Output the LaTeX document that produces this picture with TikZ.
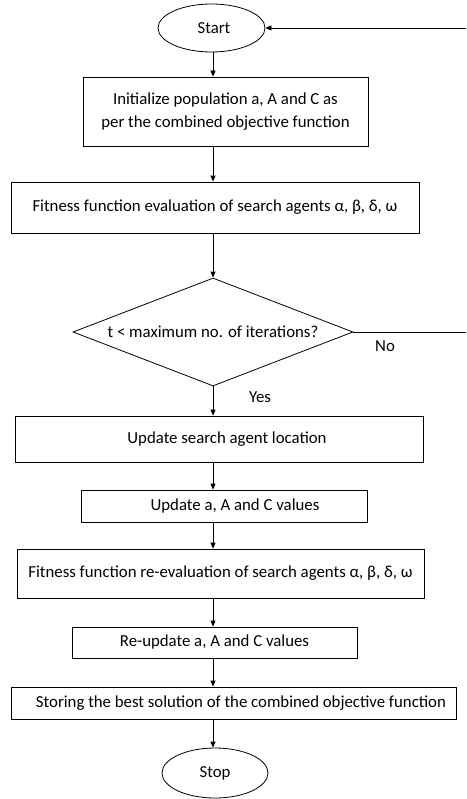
\documentclass[tikz,border=0pt]{standalone}
\usepackage{fontspec}
\setmainfont{Carlito}
\usetikzlibrary{arrows.meta,shapes.geometric}
\tikzset{
  flow/.style={draw=black, line width=0.8pt, fill=white, inner sep=0pt, align=center, font=\fontsize{16.8}{23}\selectfont},
  procbox/.style={flow, rectangle},
  termbox/.style={flow, ellipse},
  decbox/.style={flow, diamond, shape aspect=2.6},
  link/.style={line width=0.8pt, -{Triangle[length=6pt,width=5pt]}},
  plain/.style={line width=0.8pt},
  lbl/.style={font=\fontsize{16.8}{20}\selectfont, inner sep=0pt}
}
\begin{document}
\begin{tikzpicture}[x=1pt,y=-1pt]
  \useasboundingbox (0,0) rectangle (466,799);
  \fill[white] (0,0) rectangle (466,799);

  % vertical axis of the main flow
  \coordinate (axis) at (213,0);

  \node[termbox, minimum width=107pt, minimum height=48pt] (start) at (211.5,28) {\hspace*{5pt}Start};
  \node[procbox, minimum width=285pt, minimum height=69pt] (init) at (225.5,111.5)
    {Initialize population a, A and C as\\per the combined objective function};
  \node[procbox, minimum width=408pt, minimum height=51pt] (eval) at (215,207.5)
    {Fitness function evaluation of search agents α, β, δ, ω};
  \node[decbox, minimum width=280pt, minimum height=108pt] (test) at (213,332)
    {t < maximum no. of iterations?};
  \node[procbox, minimum width=408pt, minimum height=46pt] (loc) at (219,439)
    {\hspace*{16pt}Update search agent location};
  \node[procbox, minimum width=286pt, minimum height=32pt] (upd) at (224,506)
    {\hspace*{22pt}Update a, A and C values};
  \node[procbox, minimum width=407pt, minimum height=49pt] (reeval) at (220.5,573.5)
    {Fitness function re-evaluation of search agents α, β, δ, ω};
  \node[procbox, minimum width=285pt, minimum height=31pt] (reupd) at (214.5,642.5)
    {Re-update a, A and C values};
  \node[procbox, minimum width=445pt, minimum height=32pt] (store) at (233.5,703)
    {\hspace*{15pt}Storing the best solution of the combined objective function};
  \node[termbox, minimum width=106pt, minimum height=50pt] (stop) at (215,773) {Stop};

  % free ends of the loop lines at the right border
  \coordinate (loopin) at (466,28);
  \coordinate (loopout) at (466,332);

  % main flow
  \draw[link] (start.south -| axis) -- (init.north -| axis);
  \draw[link] (init.south -| axis) -- (eval.north -| axis);
  \draw[link] (eval.south -| axis) -- (test.north);
  \draw[link] (test.south) -- (loc.north -| axis);
  \draw[link] (loc.south -| axis) -- (upd.north -| axis);
  \draw[link] (upd.south -| axis) -- (reeval.north -| axis);
  \draw[link] (reeval.south -| axis) -- (reupd.north -| axis);
  \draw[link] (reupd.south -| axis) -- (store.north -| axis);
  \draw[link] (store.south -| axis) -- (stop.north -| axis);

  % loop lines
  \draw[plain] (test.east) -- (loopout);
  \draw[link] (loopin) -- (start.east);

  \node[lbl] (no) at (385,346) {No};
  \node[lbl] (yes) at (260,397) {Yes};
\end{tikzpicture}
\end{document}
